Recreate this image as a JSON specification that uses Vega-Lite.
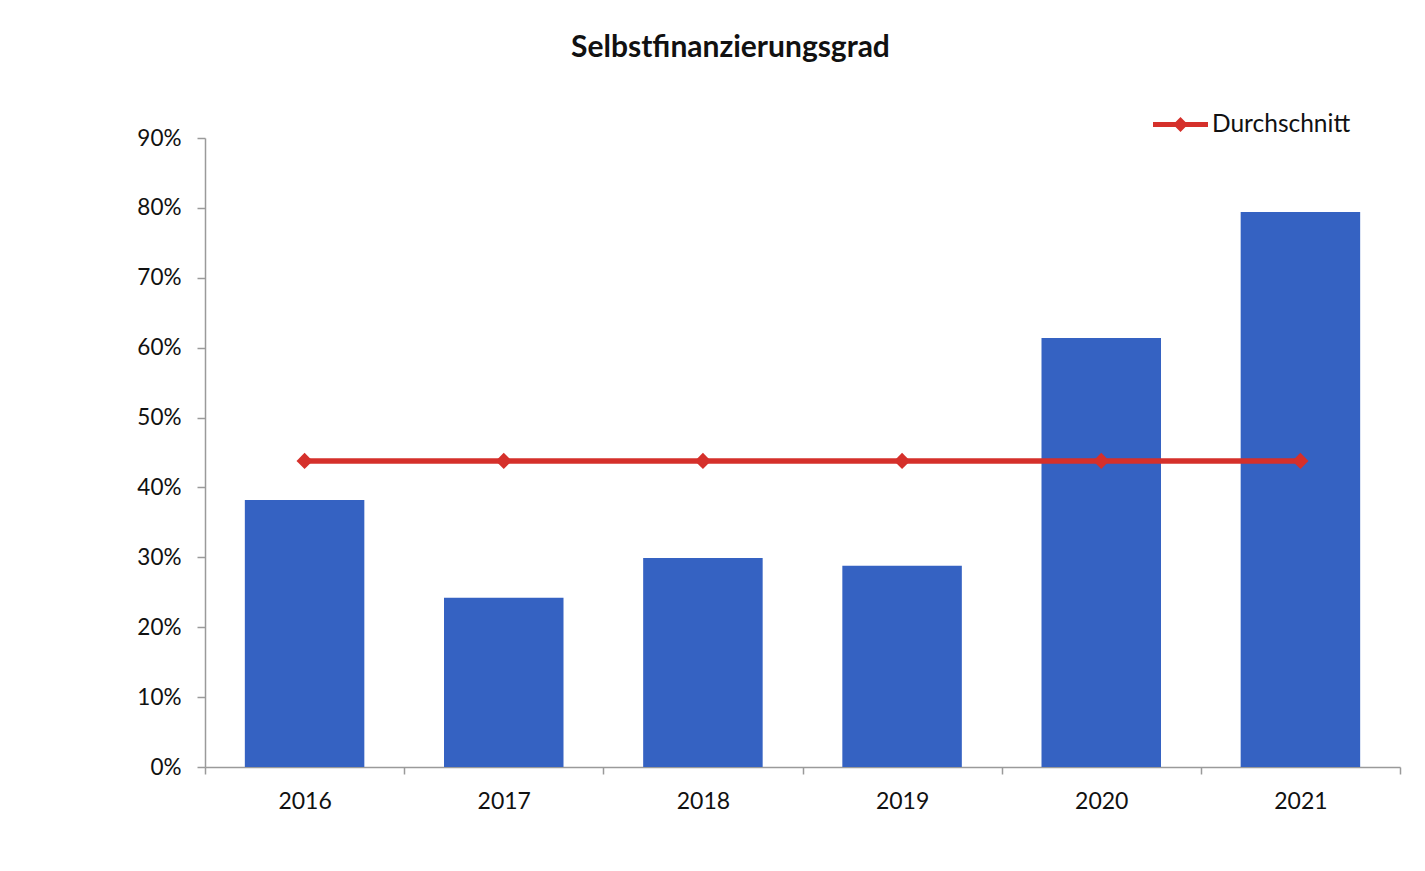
{
  "$schema": "https://vega.github.io/schema/vega-lite/v6.json",
  "autosize": {"type": "none"},
  "width": 1195,
  "height": 629,
  "padding": {"left": 205, "top": 138, "right": 25, "bottom": 104},
  "background": "white",
  "title": {
    "text": "Selbstfinanzierungsgrad",
    "font": "Lato",
    "fontSize": 30,
    "fontWeight": "bold",
    "color": "#111111",
    "anchor": "middle",
    "dx": -72,
    "offset": 34
  },
  "config": {
    "view": {"stroke": null},
    "font": "Lato"
  },
  "data": {
    "values": [
      {"year": "2016", "value": 0.382, "avg": 0.438},
      {"year": "2017", "value": 0.242, "avg": 0.438},
      {"year": "2018", "value": 0.299, "avg": 0.438},
      {"year": "2019", "value": 0.288, "avg": 0.438},
      {"year": "2020", "value": 0.614, "avg": 0.438},
      {"year": "2021", "value": 0.794, "avg": 0.438}
    ]
  },
  "encoding": {
    "x": {
      "field": "year",
      "type": "nominal",
      "scale": {"paddingInner": 0, "paddingOuter": 0},
      "axis": {
        "title": null,
        "labelAngle": 0,
        "labelFont": "Lato",
        "labelFontSize": 23,
        "labelColor": "#111111",
        "labelPadding": 16,
        "tickBand": "extent",
        "tickSize": 7,
        "tickColor": "#9a9a9a",
        "domainColor": "#9a9a9a",
        "domainWidth": 1.5,
        "tickWidth": 1.5,
        "grid": false
      }
    }
  },
  "layer": [
    {
      "mark": {"type": "bar", "color": "#3562c2", "width": {"band": 0.6}},
      "encoding": {
        "y": {
          "field": "value",
          "type": "quantitative",
          "scale": {"domain": [0, 0.9]},
          "axis": {
            "title": null,
            "format": ".0%",
            "values": [0, 0.1, 0.2, 0.3, 0.4, 0.5, 0.6, 0.7, 0.8, 0.9],
            "labelFont": "Lato",
            "labelFontSize": 22.5,
            "labelColor": "#111111",
            "labelPadding": 16,
            "tickSize": 8,
            "tickColor": "#9a9a9a",
            "domainColor": "#9a9a9a",
            "domainWidth": 1.5,
            "tickWidth": 1.5,
            "grid": false
          }
        }
      }
    },
    {
      "mark": {"type": "line", "strokeWidth": 5.5},
      "encoding": {
        "y": {"field": "avg", "type": "quantitative"},
        "color": {
          "datum": "Durchschnitt",
          "scale": {"range": ["#d5302b"]},
          "legend": {
            "title": null,
            "orient": "none",
            "legendX": 948,
            "legendY": -41,
            "padding": 0,
            "symbolType": "M-1,-0.09L1,-0.09L1,0.09L-1,0.09Z M-0.27,0L0,-0.27L0.27,0L0,0.27Z",
            "symbolSize": 3025,
            "symbolStrokeWidth": 0,
            "symbolFillColor": "#d5302b",
            "labelFont": "Lato",
            "labelFontSize": 24.5,
            "labelColor": "#111111",
            "labelOffset": 4
          }
        }
      }
    },
    {
      "mark": {"type": "point", "shape": "diamond", "filled": true, "size": 260, "color": "#d5302b", "opacity": 1},
      "encoding": {
        "y": {"field": "avg", "type": "quantitative"}
      }
    }
  ]
}
